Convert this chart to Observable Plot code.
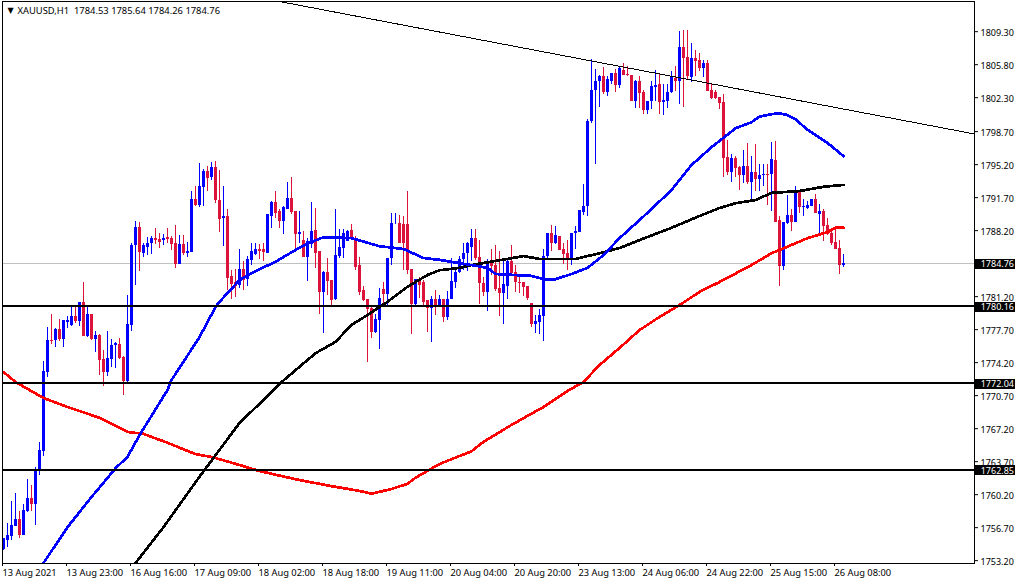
<!DOCTYPE html>
<html><head><meta charset="utf-8">
<script src="https://cdn.jsdelivr.net/npm/d3@7"></script>
<script src="https://cdn.jsdelivr.net/npm/@observablehq/plot@0.6"></script>
<style>html,body{margin:0;padding:0;background:#fff}svg{display:block}</style>
</head><body><div id="chart"></div>
<script>
const opens=[1754.4,1755.3,1755.8,1756.8,1757.6,1755.9,1758.4,1759.8,1759.2,1762.7,
1764.8,1773.2,1776.6,1776.6,1777.7,1776.7,1778.5,1778.1,1779.1,1778.6,
1780.6,1777.0,1779.3,1776.7,1777.1,1774.5,1773.2,1774.5,1776.0,1776.1,
1774.7,1772.15,1778.1,1786.6,1788.5,1785.8,1786.45,1786.8,1787.4,1787.3,
1787.2,1787.5,1787.4,1786.8,1784.65,1786.7,1785.8,1785.9,1791.55,1790.9,
1792.8,1794.5,1793.8,1794.85,1791.35,1789.45,1789.65,1783.3,1782.65,1782.4,
1784.1,1783.0,1785.0,1785.7,1786.2,1786.15,1785.8,1789.75,1791.15,1790.2,
1789.2,1790.45,1791.65,1790.2,1787.75,1787.15,1785.4,1786.7,1788.25,1786.0,
1781.65,1783.8,1782.95,1780.9,1785.5,1786.35,1787.0,1788.25,1787.4,1784.45,
1781.8,1780.85,1779.9,1777.35,1778.7,1782.0,1781.4,1785.2,1788.95,1789.0,
1788.8,1788.8,1784.1,1780.4,1783.05,1782.65,1780.75,1779.9,1780.95,1780.1,
1780.85,1778.95,1780.85,1782.75,1783.8,1785.1,1785.8,1786.4,1787.4,1785.35,
1782.55,1781.6,1784.9,1784.45,1782.1,1781.5,1782.25,1784.9,1783.8,1782.75,
1782.65,1782.3,1780.5,1778.2,1778.5,1779.05,1785.5,1787.9,1786.8,1787.55,
1786.15,1785.8,1785.2,1787.85,1788.05,1790.15,1790.75,1799.75,1803.1,1804.0,
1804.5,1802.9,1804.05,1804.9,1803.55,1805.15,1804.8,1804.7,1801.85,1804.05,
1802.8,1800.9,1801.85,1803.35,1803.65,1801.75,1801.85,1802.8,1804.3,1804.05,
1807.65,1806.6,1804.4,1806.5,1806.2,1805.35,1805.9,1803.1,1802.8,1802.35,
1801.75,1796.0,1794.4,1795.9,1794.85,1794.1,1794.95,1793.35,1794.4,1793.65,
1794.0,1794.2,1794.15,1795.6,1789.3,1784.35,1789.0,1789.85,1789.1,1792.2,
1790.65,1790.5,1790.8,1791.55,1789.95,1790.25,1788.7,1787.85,1786.9,1786.35,
1784.53];
const closes=[1755.5,1755.9,1756.9,1757.6,1755.9,1758.5,1759.8,1759.2,1762.9,1764.9,
1773.3,1776.6,1776.4,1777.7,1776.7,1778.7,1778.7,1779.1,1778.6,1780.6,
1777.0,1779.3,1776.7,1777.1,1774.4,1773.2,1774.6,1776.0,1776.2,1774.6,
1772.15,1778.2,1786.6,1788.5,1785.9,1786.6,1786.85,1787.4,1787.2,1786.9,
1787.4,1787.3,1786.7,1784.65,1786.7,1785.8,1786.0,1791.55,1790.9,1792.9,
1794.5,1793.7,1794.85,1791.35,1789.4,1789.65,1783.15,1782.5,1782.3,1784.1,
1782.96,1785.1,1786.0,1786.25,1786.0,1785.85,1789.95,1791.15,1790.0,1789.2,
1790.65,1791.65,1790.1,1787.75,1788.05,1785.4,1787.0,1788.15,1785.8,1781.65,
1783.8,1782.8,1780.75,1785.6,1786.45,1787.9,1788.15,1787.25,1784.3,1781.6,
1780.75,1779.8,1777.35,1778.8,1781.05,1781.4,1785.2,1789.0,1789.0,1786.8,
1786.85,1784.0,1780.4,1783.05,1782.4,1780.6,1779.9,1780.95,1780.1,1780.85,
1778.95,1780.95,1782.85,1783.8,1785.1,1785.75,1786.8,1787.4,1785.2,1782.55,
1781.6,1784.8,1784.35,1782.0,1781.5,1782.45,1784.9,1783.7,1782.65,1782.55,
1782.2,1781.05,1778.2,1778.6,1779.15,1785.5,1787.85,1786.8,1787.65,1786.05,
1785.7,1785.2,1787.85,1788.15,1790.3,1790.8,1799.8,1803.1,1804.05,1804.5,
1802.9,1804.2,1804.9,1803.55,1805.35,1804.7,1804.6,1801.85,1804.05,1802.7,
1800.9,1801.85,1803.45,1803.55,1801.75,1801.95,1802.8,1804.5,1804.05,1807.65,
1806.5,1804.5,1806.5,1806.1,1805.35,1805.9,1803.0,1802.25,1802.25,1801.65,
1795.9,1794.4,1795.9,1794.75,1794.1,1794.95,1793.35,1794.4,1793.65,1794.1,
1794.2,1794.1,1795.7,1789.1,1784.35,1789.05,1789.85,1789.1,1792.3,1790.7,
1790.8,1790.9,1791.55,1790.05,1790.25,1788.6,1787.75,1786.8,1786.25,1784.45,
1784.76];
const highs=[1755.6,1757.1,1759.5,1760.3,1758.4,1759.2,1761.8,1761.2,1763.1,1765.7,
1774.3,1777.9,1779.3,1777.8,1778.8,1778.7,1779.1,1780.3,1780.0,1780.6,
1782.7,1780.3,1779.3,1777.5,1777.2,1775.5,1777.5,1776.7,1776.3,1776.8,
1774.9,1781.3,1786.85,1789.2,1789.1,1786.85,1787.5,1787.55,1788.4,1787.85,
1787.75,1788.4,1787.6,1788.7,1787.7,1787.7,1786.9,1792.4,1792.9,1795.3,
1794.7,1794.95,1795.4,1795.5,1794.6,1792.9,1790.4,1784.0,1784.1,1786.25,
1784.9,1785.5,1786.85,1786.85,1786.7,1786.8,1789.95,1791.25,1792.3,1790.4,
1790.8,1793.35,1793.8,1790.2,1790.2,1788.1,1787.4,1791.2,1790.6,1786.0,
1783.9,1785.2,1782.95,1790.4,1788.3,1788.35,1788.25,1788.9,1787.55,1785.35,
1782.3,1780.85,1780.05,1779.35,1782.1,1782.75,1785.2,1790.05,1790.05,1789.85,
1789.75,1792.4,1784.1,1783.05,1783.2,1782.95,1780.75,1781.25,1781.8,1781.35,
1780.85,1781.7,1785.2,1784.2,1785.5,1786.8,1786.95,1788.35,1788.35,1787.15,
1783.25,1785.1,1786.15,1786.65,1785.95,1785.1,1785.1,1786.65,1784.45,1783.3,
1782.75,1782.3,1780.5,1779.25,1779.8,1786.25,1787.9,1788.7,1788.6,1787.55,
1786.85,1787.2,1787.85,1788.6,1790.3,1793.05,1800.0,1806.35,1805.3,1804.6,
1805.55,1804.55,1804.9,1805.25,1805.55,1805.9,1805.65,1804.7,1804.15,1804.55,
1803.1,1801.85,1804.0,1805.15,1804.8,1803.65,1803.75,1805.05,1805.65,1809.35,
1809.45,1809.45,1808.0,1807.35,1806.95,1806.2,1806.2,1803.85,1803.1,1802.35,
1802.6,1797.8,1796.3,1796.1,1795.05,1796.75,1797.4,1796.1,1797.3,1795.25,
1795.25,1795.25,1797.6,1797.7,1789.75,1789.05,1791.9,1790.4,1792.9,1792.5,
1791.5,1791.25,1791.55,1792.0,1791.0,1790.4,1789.45,1788.45,1788.4,1787.2,
1785.64];
const lows=[1754.3,1754.6,1755.3,1756.8,1755.6,1755.9,1758.3,1758.4,1756.9,1762.2,
1764.3,1772.6,1776.1,1775.8,1776.4,1775.8,1777.8,1778.0,1778.4,1778.0,
1777.0,1776.9,1776.5,1775.3,1772.8,1771.7,1772.7,1773.7,1773.6,1774.5,
1770.7,1771.9,1777.5,1782.4,1783.85,1785.3,1785.6,1785.7,1786.7,1786.35,
1786.6,1786.8,1786.05,1784.2,1784.65,1785.6,1785.3,1785.9,1790.8,1790.7,
1790.8,1792.4,1793.5,1791.1,1787.95,1786.55,1781.9,1780.85,1781.15,1782.05,
1781.9,1782.3,1784.5,1785.6,1785.15,1784.9,1785.8,1788.45,1789.5,1788.45,
1787.75,1790.45,1789.9,1786.15,1786.8,1785.4,1782.8,1786.3,1784.2,1779.35,
1777.25,1781.35,1780.3,1780.75,1785.25,1785.25,1787.0,1787.2,1783.95,1781.35,
1780.65,1774.25,1776.8,1777.3,1775.55,1780.4,1780.2,1784.55,1788.9,1786.8,
1784.0,1783.6,1777.15,1780.05,1781.0,1780.05,1777.45,1776.3,1779.25,1780.0,
1778.5,1778.7,1780.85,1782.1,1783.65,1784.0,1783.85,1784.9,1785.0,1780.4,
1781.2,1779.65,1783.4,1781.7,1779.05,1778.2,1780.85,1783.6,1781.6,1781.5,
1781.2,1780.75,1777.95,1777.25,1777.15,1776.4,1785.0,1786.0,1786.7,1786.05,
1784.65,1784.0,1784.45,1786.15,1788.0,1789.85,1789.7,1799.6,1795.25,1801.3,
1802.6,1802.4,1803.75,1802.9,1803.3,1804.7,1804.5,1801.85,1801.1,1801.1,
1800.55,1800.55,1801.0,1801.85,1800.55,1800.45,1801.2,1802.7,1803.0,1801.6,
1801.3,1804.2,1803.9,1804.5,1805.05,1804.4,1803.0,1802.15,1802.1,1801.05,
1793.8,1794.0,1793.35,1793.8,1792.5,1793.15,1793.05,1791.5,1792.3,1792.3,
1792.85,1790.9,1790.2,1789.1,1782.3,1784.0,1788.8,1788.15,1789.1,1790.05,
1789.65,1790.4,1790.8,1790.0,1787.6,1787.1,1787.65,1786.65,1786.15,1783.5,
1784.26];

const redMaBars=[0,3,10,16,24,31,35,41,48,52,59,64,74,82,89,92,97,101,103,109,117,120,127,135,141,145,149,154,159,164,169,174,179,187,192,196,201,206,208,210];
const redMaValues=[1773.2,1772.15,1770.45,1769.5,1768.35,1766.85,1766.65,1765.7,1764.5,1764.2,1763.35,1762.7,1761.75,1761.1,1760.6,1760.3,1760.8,1761.35,1762.0,1763.45,1764.8,1765.8,1767.6,1769.5,1771.2,1772.15,1773.95,1775.75,1777.65,1779.05,1780.3,1781.7,1782.75,1784.55,1785.8,1786.5,1787.4,1788.05,1788.5,1788.5];
const blueMaBars=[10,16,22,28,31,34,41,42,49,53,54,59,62,68,73,77,80,87,94,100,105,109,114,117,121,123,132,135,138,142,146,150,154,160,167,172,177,183,187,189,192,194,196,198,201,206,210];
const blueMaValues=[1752.95,1756.75,1759.95,1763.0,1764.2,1766.5,1771.3,1772.35,1776.9,1780.1,1780.65,1782.95,1783.7,1784.9,1786.15,1787.0,1787.5,1787.4,1786.55,1786.25,1785.3,1785.1,1784.75,1784.55,1784.25,1783.6,1783.4,1783.05,1783.05,1783.6,1784.25,1785.6,1787.4,1789.7,1792.5,1795.15,1797.05,1799.05,1799.7,1800.3,1800.55,1800.65,1800.45,1800.0,1798.9,1797.5,1796.1];
const blackMaBars=[33,40,49,59,65,69,73,78,83,87,91,96,101,106,109,114,117,126,130,134,143,148,154,159,167,174,179,183,188,192,199,205,210];
const blackMaValues=[1752.95,1756.75,1762.1,1767.8,1770.25,1771.95,1773.4,1775.2,1776.4,1778.2,1779.25,1780.65,1782.25,1783.5,1784.0,1784.25,1784.55,1785.2,1785.5,1785.2,1785.2,1785.7,1786.35,1787.2,1788.5,1789.75,1790.6,1791.1,1791.45,1792.2,1792.4,1792.85,1793.05];
const trendBars=[69.6,242.75];
const trendValues=[1812.45,1798.45];
const supportLevels=[1780.16,1772.04,1762.85];
const lastPrice=1784.76;
const priceTicks=[1809.3,1805.8,1802.3,1798.7,1795.2,1791.7,1788.2,1784.7,1781.2,1777.7,1774.2,1770.7,1767.2,1763.7,1760.2,1756.7,1753.2];
const timeTickBars=[0,16,32,48,64,80,96,112,128,144,160,176,192,208];
const timeTickLabels=["13 Aug 2021","13 Aug 23:00","16 Aug 16:00","17 Aug 09:00","18 Aug 02:00","18 Aug 18:00","19 Aug 11:00","20 Aug 04:00","20 Aug 20:00","23 Aug 13:00","24 Aug 06:00","24 Aug 22:00","25 Aug 15:00","26 Aug 08:00"];
const header="XAUUSD,H1  1784.53 1785.64 1784.26 1784.76";

const candles=opens.map((o,i)=>({i,o,c:closes[i],h:highs[i],l:lows[i]}));
const zip=(xs,ys)=>xs.map((x,k)=>({x,y:ys[k]}));
const candleColor=d=>d.c>=d.o?"#0000ff":"#dc143c";
const font='"Noto Sans"';
const priceLabels=[...supportLevels,lastPrice];
const crisp={shapeRendering:"crispEdges"};

const chart=Plot.plot({
  width:1020,height:584,
  marginLeft:2,marginRight:46,marginTop:1,marginBottom:21,
  style:{background:"#fff",fontFamily:font,fontSize:"9.5px",color:"#000"},
  x:{type:"linear",domain:[-0.25,242.75]},
  y:{type:"linear",domain:[1752.9,1812.5]},
  marks:[
    Plot.ruleY([lastPrice],{stroke:"#c0c0c0",strokeWidth:1,...crisp}),
    Plot.ruleX(candles,{x:"i",y1:"l",y2:"h",stroke:candleColor,strokeWidth:1,...crisp}),
    Plot.ruleX(candles,{x:"i",y1:"o",y2:"c",stroke:candleColor,strokeWidth:3,...crisp}),
    Plot.line(zip(redMaBars,redMaValues),{x:"x",y:"y",stroke:"#ff0000",strokeWidth:2.7,clip:true,...crisp}),
    Plot.line(zip(blackMaBars,blackMaValues),{x:"x",y:"y",stroke:"#000",strokeWidth:2.7,clip:true,...crisp}),
    Plot.line(zip(blueMaBars,blueMaValues),{x:"x",y:"y",stroke:"#0000ff",strokeWidth:2.7,clip:true,...crisp}),
    Plot.line(zip(trendBars,trendValues),{x:"x",y:"y",stroke:"#000",strokeWidth:1,clip:true,...crisp}),
    Plot.ruleY(supportLevels,{stroke:"#000",strokeWidth:2,...crisp}),
    Plot.frame({stroke:"#000",strokeWidth:1,...crisp}),
    Plot.axisX({anchor:"bottom",ticks:timeTickBars,tickSize:3,tickPadding:3,textAnchor:"start",dx:-1,
      tickFormat:d=>timeTickLabels[timeTickBars.indexOf(d)],fontSize:9.3,fill:"#000",stroke:"#000",label:null}),
    Plot.axisY({anchor:"right",ticks:priceTicks,tickSize:3,text:null,stroke:"#000",label:null}),
    Plot.axisY({anchor:"right",ticks:priceTicks,tickSize:0,tickPadding:6,dy:1.5,textAnchor:"start",
      tickFormat:d=>d.toFixed(2),fontSize:9,fill:"#000",label:null}),
    Plot.ruleY(priceLabels,{x1:243.1,x2:253.05,dy:0.5,stroke:"#000",strokeWidth:10,...crisp}),
    Plot.text(priceLabels,{x:244.3,y:d=>d,dy:1,text:d=>d.toFixed(2),fill:"#fff",fontSize:9,textAnchor:"start"}),
    Plot.text([header],{frameAnchor:"top-left",dx:15,dy:6,fontSize:9.4,fill:"#000",text:d=>d}),
    Plot.text(["▼"],{frameAnchor:"top-left",dx:5,dy:6,fontSize:8,fontFamily:"DejaVu Sans",fill:"#000",text:d=>d})
  ]
});
document.getElementById("chart").appendChild(chart);
</script></body></html>
